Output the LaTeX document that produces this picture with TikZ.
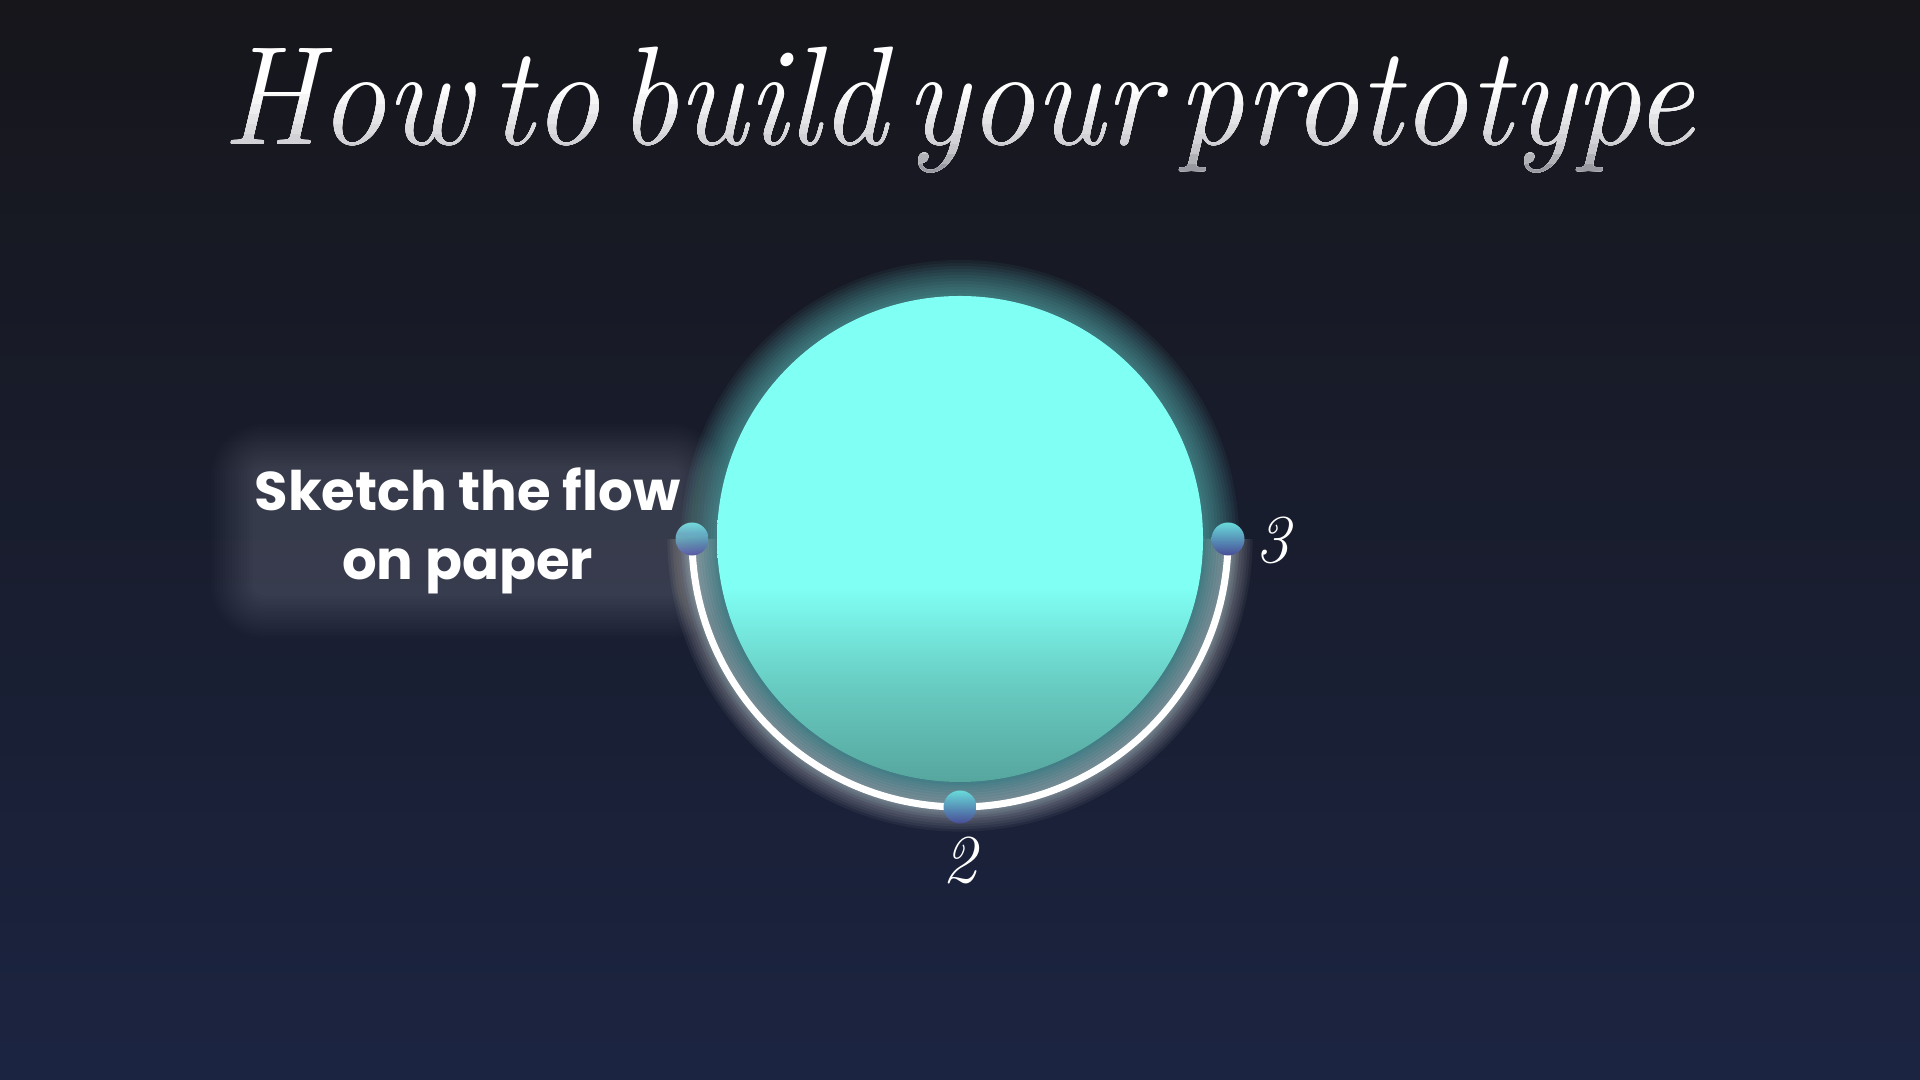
\documentclass[tikz,border=0pt]{standalone}
\usepackage{fontspec}
\setsansfont{Poppins}
\usepackage{tikz}
\usepackage{xcolor}
\definecolor{bgtop}{HTML}{16161B}
\definecolor{bgbot}{HTML}{1B2441}
\definecolor{orbtop}{RGB}{128,255,244}
\definecolor{orbmid}{RGB}{104,204,194}
\definecolor{orbbot}{RGB}{86,166,158}
\definecolor{orbglow}{RGB}{110,230,225}
\definecolor{dottop}{RGB}{105,218,218}
\definecolor{dotbot}{RGB}{72,76,150}
\definecolor{titlegray}{RGB}{105,105,118}

\pgfdeclareverticalshading{orbfill}{100bp}{color(0bp)=(orbbot); color(25bp)=(orbbot); color(35bp)=(orbmid); color(45bp)=(orbtop); color(100bp)=(orbtop)}

\newcommand{\titletext}{\resizebox{14.71cm}{\height}{\fontsize{40}{48}\selectfont\itshape\spaceskip=0.14em How to build your prototype}}

\begin{document}
\begin{tikzpicture}[
	dot/.style = {circle, minimum size=0.33cm, inner sep=0pt, top color=dottop, bottom color=dotbot},
	track/.style = {draw=white, line width=2pt},
	numlabel/.style = {text=white, inner sep=0pt, font=\fontsize{19.5}{20}\selectfont\itshape},
	steptext/.style = {text=white, align=center, font=\sffamily\bfseries\fontsize{15.5}{19.6}\selectfont},
	titlestyle/.style = {anchor=base west, inner sep=0pt}
]
	% background
	\useasboundingbox (0,0) rectangle (19.2,10.8);
	\shade[top color=bgtop, bottom color=bgbot] (0,0) rectangle (19.2,10.8);

	% orb and its glow
	\coordinate (mid) at (9.60,5.41);
	\foreach \g in {1,...,12}
		\fill[orbglow, opacity=0.05] (mid) circle (2.43+0.03*\g);
	\node[circle, minimum size=4.86cm, inner sep=0pt, shading=orbfill] (orb) at (mid) {};

	% track
	\coordinate (p1) at (6.92,5.41);
	\coordinate (p2) at (9.60,2.73);
	\coordinate (p3) at (12.28,5.41);
	\foreach \g in {1,...,8}
		\draw[white, opacity=0.05, line width=2pt+1.5pt*\g] (p1) arc[start angle=180, end angle=360, radius=2.68];
	\draw[track] (p1) arc[start angle=180, end angle=360, radius=2.68];
	\node[dot] (d1) at (p1) {};
	\node[dot] (d2) at (p2) {};
	\node[dot] (d3) at (p3) {};

	% labels
	\foreach \s in {0.02,0.05,...,0.44}
		\node[steptext, fill=white, fill opacity=0.011, text opacity=0, inner sep=\s cm, rounded corners=\s cm+0.1cm] at (4.675,5.49) {Sketch the flow\\on paper};
	\node[steptext] (step1) at (4.675,5.49) {Sketch the flow\\on paper};
	\node[numlabel] (n2) at (9.60,2.20) {2};
	\node[numlabel] (n3) at (12.73,5.40) {3};

	% title, white on top fading to gray
	\node[titlestyle, text=white] (title) at (2.22,9.35) {\titletext};
	\foreach \y/\p in {9.85/94, 9.75/88, 9.65/82, 9.55/76, 9.45/70, 9.35/62, 9.25/48, 9.15/32, 9.05/16}{
		\begin{scope}
			\clip (2.0,8.8) rectangle (17.2,\y);
			\node[titlestyle, text=white!\p!titlegray] at (2.22,9.35) {\titletext};
		\end{scope}
	}
\end{tikzpicture}
\end{document}
